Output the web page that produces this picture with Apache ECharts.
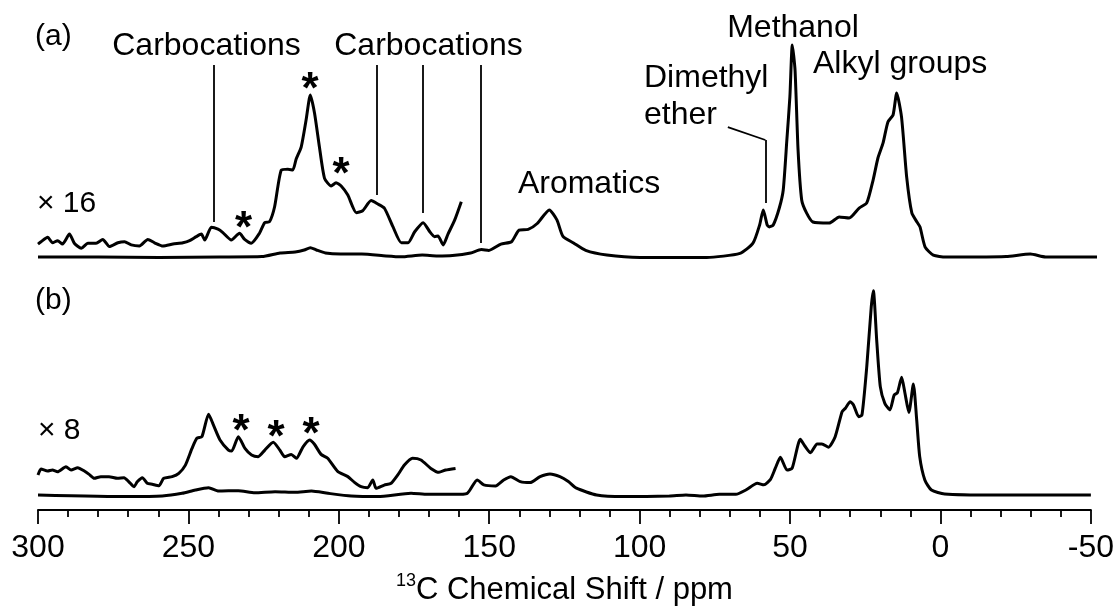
<!DOCTYPE html>
<html>
<head>
<meta charset="utf-8">
<script src="https://cdn.jsdelivr.net/npm/echarts@6/dist/echarts.min.js"></script>
<style>
  html, body { margin: 0; padding: 0; background: #fff; }
  #chart { width: 1117px; height: 610px; }
</style>
</head>
<body>
<div id="chart"></div>
<script>
// 13C MAS NMR spectra, chemical shift in ppm (x) vs. intensity (arbitrary units, tallest peak = 100)

// (a) full spectrum
const shiftA = [300, 280, 260, 240, 226, 220, 215, 212, 210, 208, 205, 200, 193, 185, 180, 173, 168, 163, 157, 153.5, 151, 147, 143.5, 141, 138, 135, 131, 128.5, 126.5, 123, 119, 112, 101, 90, 79, 68, 63.7, 61.5, 60.3, 59, 58.3, 57, 55, 53.7, 52.5, 51.5, 50.7, 49.8, 48.8, 47.6, 46, 43.9, 38.5, 35.2, 31.9, 28.6, 26.1, 24, 22.4, 20.7, 19.1, 17.4, 16.2, 14.6, 12.9, 11.2, 9.5, 8.5, 6.8, 4.1, 0, -10, -20, -28, -33, -50];
const spectrumA = [0, 0, -0.2, 0, 0.2, 1.9, 2.4, 3.3, 4.4, 3.3, 1.9, 1.4, 1.4, 0.5, 0.1, 0.9, 0.5, 0.7, 1.9, 3.5, 3.1, 6.1, 7.2, 12.7, 13.0, 15.8, 22.2, 17.5, 9.7, 6.6, 3.1, 0.9, -0.2, -0.2, -0.2, 1.7, 6.5, 15.1, 22.2, 15.1, 14.2, 15.1, 23.1, 31.6, 55.2, 75.6, 100, 88.2, 50.5, 26.9, 20.8, 16.5, 16.0, 18.9, 18.4, 23.1, 25.5, 36.3, 46.7, 53.8, 63.7, 67, 77.4, 66, 37.7, 20.8, 16.5, 14.2, 4.7, 0.9, 0, 0, 0.2, 1.4, 0, 0];

// (a) low-field region, vertical expansion x16
const shiftA16 = [300, 299, 296.8, 295.2, 293.5, 291.9, 289.6, 288, 285.7, 283.5, 280.8, 278.6, 276.4, 273.6, 271.4, 269.2, 266.5, 263.7, 261.5, 258.7, 255.4, 252.1, 249.9, 247.7, 246, 244.9, 242.7, 240.5, 238.9, 236.1, 233.4, 231.7, 229.5, 226.8, 225.1, 223.5, 221.8, 219.6, 217.4, 215.8, 214.7, 213, 211.4, 210, 208.6, 207, 205.3, 203.1, 201.5, 199.8, 197.6, 194.8, 192.7, 189.9, 187.7, 185.5, 182.7, 179.9, 177.7, 175.5, 172.7, 170.5, 168.9, 167.8, 166.1, 164.5, 162.3, 160.1];
const spectrumA16 = [-0.5, 0.6, 2.7, 0.1, 1.1, -0.5, 4.2, -0.1, -2.5, -0.1, -0.1, 1.7, -1.7, 0.1, 0.6, -0.9, -1.4, 1.7, 0.1, -1.4, -0.5, 0.1, 1.1, 3.0, 4.2, 1.4, 7.4, 6.5, 4.9, 1.4, 4.6, 1.7, -0.1, 4.6, 9.6, 10.0, 17.1, 34.4, 34.8, 34.4, 39.5, 45.4, 58.0, 69.8, 61.2, 45.4, 30.5, 26.9, 28.4, 26.9, 22.6, 14.3, 15.2, 20.0, 18.4, 16.4, 7.7, 0.1, 0.1, 5.3, 9.6, 5.3, 3.0, 3.3, -0.9, 4.2, 10.8, 19.5];

// (b) full spectrum
const shiftB = [300, 269.7, 258.7, 252.1, 247.7, 243.3, 240, 233.4, 227.9, 221.2, 214.6, 209.1, 203.6, 195.9, 187, 176, 170.5, 161.7, 157.3, 154, 151.8, 147.9, 145.2, 142.8, 139.7, 136.4, 133.1, 129.8, 126.5, 123.7, 121, 114.3, 105.5, 90.1, 84.6, 79, 73.5, 68, 64.7, 60.9, 58.7, 56.5, 54.9, 53.2, 51, 49.3, 46.6, 44.9, 43.2, 41, 39.4, 37.2, 35, 32.7, 31.6, 30, 28.9, 27.2, 26.1, 24.5, 23, 22.3, 21.2, 20, 18.5, 16.8, 15.4, 14.3, 12.9, 11.8, 10.5, 9, 7.9, 6.9, 5.2, 3, -1.4, -17.9, -50];
const spectrumB = [0, -0.8, -0.5, 0.8, 2.4, 3.5, 1.9, 2.1, 1.1, 1.6, 1.3, 1.9, 0.8, -0.5, -0.8, 0.8, 0.3, 0.3, 0.8, 7.3, 4.9, 4.4, 7.3, 8.9, 6.5, 6.0, 8.9, 10.2, 8.9, 6.5, 3.3, 0, -0.8, -0.5, 0, -0.5, 0.3, 0.3, 2.4, 5.7, 4.9, 7.6, 13.0, 18.3, 12.1, 13.0, 27.0, 23.4, 20.5, 24.8, 24.8, 23.2, 28.3, 40.4, 42.1, 45.3, 43.7, 38.0, 38.8, 62.3, 91.4, 99.2, 75.2, 52.6, 44.5, 41.3, 48.5, 49.7, 57.1, 49.4, 40.0, 53.9, 36.4, 18.6, 7.3, 2.4, 0.5, 0, 0];

// (b) low-field region, vertical expansion x8
const shiftB8 = [300, 299, 296.8, 295.2, 293.5, 290.7, 289, 286.8, 284.6, 283, 281.3, 279.1, 276.4, 273.6, 271.4, 269.8, 268.1, 267, 265.3, 263.7, 262, 259.8, 258.2, 255.4, 253.2, 251, 248.8, 247.2, 245.5, 243.3, 241.7, 239.5, 236.7, 235.6, 233.4, 231.2, 229, 226.8, 224.6, 221.8, 219.6, 218, 215.8, 214.1, 211.9, 209.7, 208.1, 205.9, 203.7, 200.3, 197, 194.8, 192.6, 190.4, 188.7, 187.6, 184.9, 182.6, 180.4, 178.2, 175.5, 172.7, 169.4, 166.7, 164.5, 161.2];
const spectrumB8 = [0.5, 3.4, 2.4, 2.9, 2.1, 4.5, 2.9, 4.0, 2.4, 0.8, -1.1, -0.3, -0.3, -1.1, -0.8, -2.8, -5.2, -2.8, -0.8, -3.5, -4.0, -4.7, -1.1, -0.3, 1.3, 5.3, 13.4, 18.3, 19.1, 30.0, 24.8, 17.5, 12.6, 12.1, 19.1, 13.4, 10.2, 9.4, 12.6, 16.4, 12.6, 9.4, 10.5, 8.6, 14.2, 17.5, 15.4, 10.5, 8.6, 2.1, -0.3, -3.1, -5.2, -5.7, -1.9, -6.0, -4.4, -3.5, 0.5, 5.3, 8.6, 7.8, 3.7, 1.8, 2.9, 3.7];

// x axis
const shiftMin = -50, shiftMax = 300, shiftStep = 50;

// vertical offsets of the expanded traces above their base spectra (intensity units)
const liftA16 = 6.6;
const liftB8 = 9.2;

const FONT = 'Liberation Sans, Arial, Helvetica, sans-serif';

function pairs(xs, ys, lift) {
  return xs.map((x, i) => [x, ys[i] + (lift || 0)]);
}

const chart = echarts.init(document.getElementById('chart'), null, { renderer: 'canvas' });

const traceStyle = { color: '#000', width: 3 };
const leaderStyle = { color: '#000', width: 1.8, type: 'solid' };

function leader(x1, y1, x2, y2) {
  return [{ coord: [x1, y1] }, { coord: [x2, y2] }];
}

function txt(text, x, y, size, align, bold) {
  return {
    type: 'text',
    silent: true,
    style: {
      text: text, x: x, y: y,
      font: (bold ? 'bold ' : '') + size + 'px ' + FONT,
      fill: '#000',
      align: align || 'left',
      verticalAlign: 'middle'
    }
  };
}

const xCommon = {
  type: 'value',
  min: shiftMin,
  max: shiftMax,
  interval: shiftStep,
  inverse: true,
  splitLine: { show: false }
};

const option = {
  animation: false,
  backgroundColor: '#fff',
  grid: [
    { left: 38, right: 20, top: 45, height: 222.6 },
    { left: 38, right: 20, top: 289, height: 221 }
  ],
  xAxis: [
    Object.assign({}, xCommon, { gridIndex: 0, show: false }),
    Object.assign({}, xCommon, {
      gridIndex: 1,
      axisLine: { show: true, onZero: false, lineStyle: { color: '#000', width: 2 } },
      axisTick: { show: true, length: 14, lineStyle: { color: '#000', width: 1.8 } },
      minorTick: { show: true, splitNumber: 5, length: 7, lineStyle: { color: '#000', width: 1.8 } },
      minorSplitLine: { show: false },
      axisLabel: { color: '#000', fontFamily: FONT, fontSize: 32, margin: 22 },
      name: '{sup|13}{main|C Chemical Shift / ppm}',
      nameLocation: 'middle',
      nameGap: 62,
      nameTextStyle: {
        color: '#000',
        fontFamily: FONT,
        rich: {
          sup: { fontFamily: FONT, fontSize: 18, color: '#000', verticalAlign: 'top', lineHeight: 36, padding: [0, 0, 12, 0] },
          main: { fontFamily: FONT, fontSize: 31, color: '#000', lineHeight: 36 }
        }
      }
    })
  ],
  yAxis: [
    { type: 'value', gridIndex: 0, min: -5, max: 100, show: false },
    { type: 'value', gridIndex: 1, min: -7.3, max: 100, show: false }
  ],
  series: [
    {
      type: 'line', xAxisIndex: 0, yAxisIndex: 0, data: pairs(shiftA, spectrumA),
      showSymbol: false, clip: false, smooth: 0.2, lineStyle: traceStyle,
      markLine: {
        silent: true, symbol: ['none', 'none'], label: { show: false },
        lineStyle: leaderStyle,
        data: [
          leader(242, 90.6, 242, 16.5),
          leader(188, 90.6, 188, 29.2),
          leader(173, 90.6, 173, 20.8),
          leader(153.6, 90.6, 153.6, 6.6),
          leader(72, 61.3, 59.6, 55.2),
          leader(59.6, 55.2, 59.6, 25.5)
        ]
      }
    },
    {
      type: 'line', xAxisIndex: 0, yAxisIndex: 0, data: pairs(shiftA16, spectrumA16, liftA16),
      showSymbol: false, clip: false, smooth: 0.2, lineStyle: traceStyle
    },
    {
      type: 'line', xAxisIndex: 1, yAxisIndex: 1, data: pairs(shiftB, spectrumB),
      showSymbol: false, clip: false, smooth: 0.2, lineStyle: traceStyle
    },
    {
      type: 'line', xAxisIndex: 1, yAxisIndex: 1, data: pairs(shiftB8, spectrumB8, liftB8),
      showSymbol: false, clip: false, smooth: 0.2, lineStyle: traceStyle
    }
  ],
  graphic: [
    txt('(a)', 35, 37, 30),
    txt('(b)', 35, 301, 30),
    txt('Carbocations', 206.5, 46, 32, 'center'),
    txt('Carbocations', 428.5, 46, 32, 'center'),
    txt('Aromatics', 589, 184, 32, 'center'),
    txt('Dimethyl', 644, 78, 32),
    txt('ether', 644, 115, 32),
    txt('Methanol', 793, 28, 32, 'center'),
    txt('Alkyl groups', 813, 64, 32),
    txt('\u00d7 16', 37, 204, 30),
    txt('\u00d7 8', 38, 431, 30),
    txt('*', 243.5, 230, 44, 'center', true),
    txt('*', 310, 91, 44, 'center', true),
    txt('*', 341, 176, 44, 'center', true),
    txt('*', 241, 433, 44, 'center', true),
    txt('*', 276, 439, 44, 'center', true),
    txt('*', 311, 436, 44, 'center', true)
  ]
};

chart.setOption(option);
</script>
</body>
</html>
